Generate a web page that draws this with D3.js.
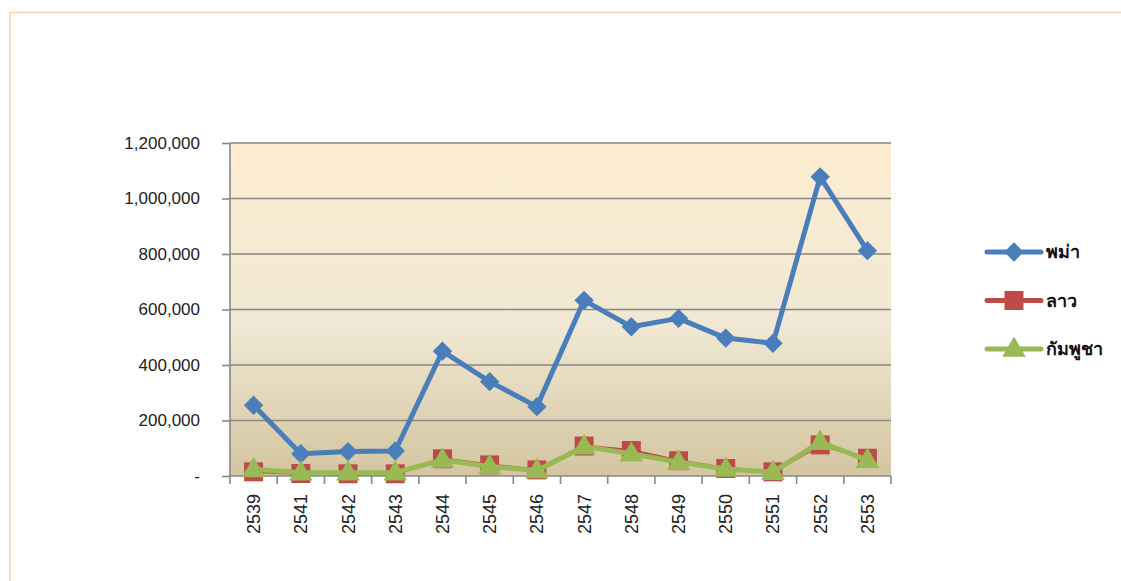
<!DOCTYPE html>
<html>
<head>
<meta charset="utf-8">
<script src="https://cdn.jsdelivr.net/npm/d3@7"></script>
<style>
  body { margin: 0; background: #fff; }
  svg { display: block; font-family: "Liberation Sans", Arial, sans-serif; }
  .tick-label { fill: #222; font-size: 17px; }
  .x-label { fill: #222; font-size: 18px; }
  .legend-label { fill: #111; font-size: 18px; font-weight: bold; }
</style>
</head>
<body>
<svg id="chart" width="1121" height="581"></svg>
<script>
'use strict';

// Chart data.
const years = ['2539', '2541', '2542', '2543', '2544', '2545', '2546',
  '2547', '2548', '2549', '2550', '2551', '2552', '2553'];
const burma = [255000, 80000, 88000, 90000, 450000, 340000, 250000,
  633000, 538000, 568000, 497000, 478000, 1078000, 812000];
const laos = [15000, 9000, 8000, 8000, 62000, 40000, 22000,
  108000, 92000, 55000, 27000, 15000, 112000, 64000];
const cambodia = [24000, 12000, 12000, 12000, 58000, 34000, 20000,
  106000, 80000, 50000, 25000, 14000, 122000, 57000];
const yTicks = [0, 200000, 400000, 600000, 800000, 1000000, 1200000];

const seriesList = [
  { name: 'พม่า', values: burma, color: '#4a7ebb', width: 5, marker: 'diamond' },
  { name: 'ลาว', values: laos, color: '#be4b48', width: 3, marker: 'square' },
  { name: 'กัมพูชา', values: cambodia, color: '#98b954', width: 5, marker: 'triangle' }
];

const svg = d3.select('#chart');
const margin = { top: 143, left: 230, right: 1121 - 891, bottom: 581 - 476 };
const plotW = 1121 - margin.left - margin.right;
const plotH = 581 - margin.top - margin.bottom;

// Outer frame (only top and left edges are visible).
svg.append('path')
  .attr('d', 'M10,581 V12.5 H1121')
  .attr('fill', 'none')
  .attr('stroke', '#fcd3ad')
  .attr('stroke-width', 1.5);

const defs = svg.append('defs');
const grad = defs.append('linearGradient')
  .attr('id', 'bg')
  .attr('x1', 0).attr('y1', 0).attr('x2', 0).attr('y2', 1);
grad.append('stop').attr('offset', '0%').attr('stop-color', '#fdedd0');
grad.append('stop').attr('offset', '55%').attr('stop-color', '#f0e8d4');
grad.append('stop').attr('offset', '100%').attr('stop-color', '#d3c59f');

const g = svg.append('g')
  .attr('transform', `translate(${margin.left},${margin.top})`);

const x = d3.scaleBand()
  .domain(years)
  .range([0, plotW]);

const y = d3.scaleLinear()
  .domain([0, 1200000])
  .range([plotH, 0]);

g.append('rect')
  .attr('width', plotW)
  .attr('height', plotH)
  .attr('fill', 'url(#bg)');

// Horizontal grid lines.
g.append('g')
  .selectAll('line')
  .data(yTicks.filter(v => v > 0))
  .join('line')
  .attr('x1', 0)
  .attr('x2', plotW)
  .attr('y1', d => y(d))
  .attr('y2', d => y(d))
  .attr('stroke', '#878787')
  .attr('stroke-width', 1.6);

// Y axis.
const yAxis = g.append('g')
  .call(d3.axisLeft(y)
    .tickValues(yTicks)
    .tickSize(8)
    .tickPadding(22)
    .tickFormat(v => v === 0 ? '-' : d3.format(',')(v)));
yAxis.select('.domain').attr('stroke', '#878787').attr('stroke-width', 1.6)
  .attr('d', `M0,${plotH}V0`);
yAxis.selectAll('.tick line').attr('stroke', '#878787').attr('stroke-width', 1.6);
yAxis.selectAll('.tick text')
  .attr('class', 'tick-label')
  .attr('font-family', null)
  .attr('font-size', null);

// X axis: ticks sit on the band boundaries, labels in the band centres.
const xAxisG = g.append('g')
  .attr('transform', `translate(0,${plotH})`);
xAxisG.append('line')
  .attr('x1', 0).attr('x2', plotW)
  .attr('stroke', '#878787').attr('stroke-width', 1.6);
xAxisG.selectAll('line.tk')
  .data(years.concat(['end']))
  .join('line')
  .attr('class', 'tk')
  .attr('x1', (d, i) => i * x.step())
  .attr('x2', (d, i) => i * x.step())
  .attr('y1', 0)
  .attr('y2', 8)
  .attr('stroke', '#878787')
  .attr('stroke-width', 1.6);
xAxisG.selectAll('text')
  .data(years)
  .join('text')
  .attr('class', 'x-label')
  .attr('text-anchor', 'end')
  .attr('transform', d => `translate(${x(d) + x.bandwidth() / 2 + 6.5},18) rotate(-90)`)
  .text(d => d);

// Markers.
const markerPath = {
  diamond: d3.symbol().type(d3.symbolDiamond2).size(240)(),
  square: d3.symbol().type(d3.symbolSquare).size(360)(),
  triangle: d3.symbol().type(d3.symbolTriangle).size(240)()
};

const line = d3.line()
  .x((d, i) => x(years[i]) + x.bandwidth() / 2)
  .y(d => y(d));

seriesList.forEach(s => {
  const sg = g.append('g').attr('class', 'series');
  sg.append('path')
    .datum(s.values)
    .attr('d', line)
    .attr('fill', 'none')
    .attr('stroke', s.color)
    .attr('stroke-width', s.width)
    .attr('stroke-linejoin', 'round');
  sg.selectAll('path.marker')
    .data(s.values)
    .join('path')
    .attr('class', 'marker')
    .attr('d', markerPath[s.marker])
    .attr('transform', (d, i) => `translate(${x(years[i]) + x.bandwidth() / 2},${y(d) + (s.marker === 'triangle' ? 1 : 0)})`)
    .attr('fill', s.color);
});

// Legend.
const legend = svg.append('g').attr('transform', 'translate(987,252)');
const legendRows = legend.selectAll('g')
  .data(seriesList)
  .join('g')
  .attr('transform', (d, i) => `translate(0,${i * 48.5})`);
legendRows.append('line')
  .attr('x1', 0).attr('x2', 54)
  .attr('stroke', d => d.color)
  .attr('stroke-width', 5)
  .attr('stroke-linecap', 'round');
legendRows.append('path')
  .attr('d', d => markerPath[d.marker])
  .attr('transform', d => `translate(27,${d.marker === 'triangle' ? 1 : 0})`)
  .attr('fill', d => d.color);
legendRows.append('text')
  .attr('class', 'legend-label')
  .attr('x', 59)
  .attr('y', 6)
  .text(d => d.name);
</script>
</body>
</html>
